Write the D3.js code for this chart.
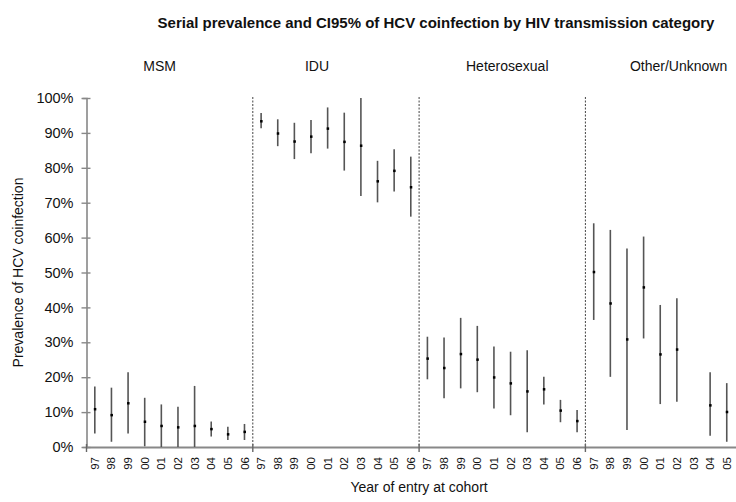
<!DOCTYPE html>
<html lang='en'>
    <head>
        <meta charset="utf-8">
        <script src="https://d3js.org/d3.v7.min.js"></script>
        <style>
            *{
                margin:0;
                padding:0
            }
            body{
                width:736px;
                height:502px;
                background:#fff;
                overflow:hidden;
            }
            text{
                font-family:"Liberation Sans",Arial,sans-serif;
                fill:#111;
            }
        </style>
    </head>
    <body>
        <script>
            // categories
            const groups=['MSM','IDU','Heterosexual','Other/Unknown'];
            const years=['97','98','99','00','01','02','03','04','05','06'];
            const yTicks=[0,0.1,0.2,0.3,0.4,0.5,0.6,0.7,0.8,0.9,1];

            // prevalence and CI95% bounds, one array per group (null = not shown)
            const prevMSM=[0.109,0.092,0.126,0.073,0.061,0.057,0.061,0.052,0.037,0.044];
            const lowMSM=[0.039,0.015,0.039,0.002,0.0,0.0,0.0,0.030,0.020,0.020];
            const highMSM=[0.173,0.170,0.214,0.141,0.122,0.115,0.175,0.073,0.058,0.066];

            const prevIDU=[0.934,0.899,0.876,0.890,0.913,0.875,0.864,0.762,0.792,0.745];
            const lowIDU=[0.913,0.862,0.825,0.842,0.855,0.792,0.719,0.701,0.732,0.660];
            const highIDU=[0.957,0.939,0.929,0.937,0.973,0.958,1.0,0.820,0.853,0.832];

            const prevHet=[0.254,0.227,0.267,0.251,0.200,0.183,0.160,0.166,0.105,0.075];
            const lowHet=[0.194,0.140,0.168,0.157,0.110,0.091,0.042,0.122,0.071,0.042];
            const highHet=[0.316,0.314,0.370,0.347,0.288,0.273,0.277,0.201,0.135,0.106];

            const prevOth=[0.502,0.412,0.309,0.458,0.266,0.280,null,0.120,0.101,null];
            const lowOth=[0.364,0.201,0.049,0.311,0.123,0.130,null,0.032,0.015,null];
            const highOth=[0.641,0.622,0.569,0.603,0.407,0.426,null,0.214,0.183,null];

            const prevAll=[prevMSM,prevIDU,prevHet,prevOth];
            const lowAll=[lowMSM,lowIDU,lowHet,lowOth];
            const highAll=[highMSM,highIDU,highHet,highOth];

            const width=736;
            const height=502;
            const margin={top:98,left:86.5,bottom:447,right:751.7};
            const labelShift=[-10,-19,5,10];

            const keys=[];
            const data=[];
            groups.forEach((g,gi)=>{
                years.forEach((y,yi)=>{
                    keys.push(g+'|'+y);
                    if(prevAll[gi][yi]!==null){
                        data.push({key:g+'|'+y,prev:prevAll[gi][yi],low:lowAll[gi][yi],high:highAll[gi][yi]});
                    }
                });
            });

            const xScale=d3.scaleBand()
                           .domain(keys)
                           .range([margin.left,margin.right]);
            const groupScale=d3.scaleBand()
                               .domain(groups)
                               .range([margin.left,margin.right]);
            const yScale=d3.scaleLinear()
                           .domain([0,1])
                           .range([margin.bottom,margin.top]);

            const svg=d3.select('body').append('svg')
                        .attr('width',width)
                        .attr('height',height);

            // title and group labels
            svg.append('text')
               .attr('x',436)
               .attr('y',28)
               .attr('text-anchor','middle')
               .attr('font-size',15)
               .attr('font-weight','bold')
               .text('Serial prevalence and CI95% of HCV coinfection by HIV transmission category');

            svg.selectAll('.group-label')
               .data(groups)
               .enter()
               .append('text')
               .attr('class','group-label')
               .attr('x',(d,i)=>groupScale(d)+groupScale.bandwidth()/2+labelShift[i])
               .attr('y',71)
               .attr('text-anchor','middle')
               .attr('font-size',14)
               .text(d=>d);

            // dotted dividers between groups
            svg.selectAll('.divider')
               .data(groups.slice(1))
               .enter()
               .append('line')
               .attr('class','divider')
               .attr('x1',d=>groupScale(d))
               .attr('x2',d=>groupScale(d))
               .attr('y1',yScale(1)-1)
               .attr('y2',yScale(0))
               .attr('stroke','#444')
               .attr('stroke-width',1)
               .attr('stroke-dasharray','2,1.5');

            // y axis
            const yAxis=svg.append('g')
                           .attr('transform',`translate(${margin.left},0)`)
                           .call(d3.axisLeft(yScale).tickValues(yTicks).tickFormat(d3.format('.0%')).tickSize(4).tickPadding(9));
            yAxis.select('.domain').attr('stroke','#888').attr('stroke-width',1.6);
            yAxis.selectAll('.tick line').attr('stroke','#888').attr('stroke-width',1.4).attr('x2',-5).attr('x1',4);
            yAxis.selectAll('.tick text')
                 .attr('font-size',14.5)
                 .attr('font-family','"Liberation Sans",Arial,sans-serif')
                 .attr('fill','#111');

            // x axis: year labels per category, ticks at group boundaries
            const xAxis=svg.append('g')
                           .attr('transform',`translate(0,${margin.bottom})`)
                           .call(d3.axisBottom(xScale).tickFormat(d=>d.split('|')[1]).tickSize(0).tickPadding(0));
            xAxis.select('.domain').attr('stroke','#888').attr('stroke-width',2);
            xAxis.selectAll('.tick')
                 .filter(d=>xScale(d)+xScale.bandwidth()/2+6>width)
                 .remove();
            xAxis.selectAll('.tick text')
                 .attr('font-size',11.5)
                 .attr('font-family','"Liberation Sans",Arial,sans-serif')
                 .attr('fill','#111')
                 .attr('text-anchor','end')
                 .attr('transform','rotate(-90)')
                 .attr('x',-10)
                 .attr('y',0)
                 .attr('dy','0.35em');

            svg.selectAll('.group-tick')
               .data(groups)
               .enter()
               .append('line')
               .attr('class','group-tick')
               .attr('x1',d=>groupScale(d))
               .attr('x2',d=>groupScale(d))
               .attr('y1',margin.bottom-3)
               .attr('y2',margin.bottom+5)
               .attr('stroke','#666')
               .attr('stroke-width',1.4);

            // axis titles
            svg.append('text')
               .attr('transform',`translate(23,${(margin.top+margin.bottom)/2}) rotate(-90)`)
               .attr('text-anchor','middle')
               .attr('font-size',14)
               .text('Prevalence of HCV coinfection');

            svg.append('text')
               .attr('x',(margin.left+margin.right)/2)
               .attr('y',492)
               .attr('text-anchor','middle')
               .attr('font-size',14)
               .text('Year of entry at cohort');

            // CI95% bars and point estimates
            svg.selectAll('.ci')
               .data(data)
               .enter()
               .append('line')
               .attr('class','ci')
               .attr('x1',d=>xScale(d.key)+xScale.bandwidth()/2)
               .attr('x2',d=>xScale(d.key)+xScale.bandwidth()/2)
               .attr('y1',d=>yScale(d.low))
               .attr('y2',d=>yScale(d.high))
               .attr('stroke','#555')
               .attr('stroke-width',1.6);

            svg.selectAll('.point')
               .data(data)
               .enter()
               .append('rect')
               .attr('class','point')
               .attr('x',d=>xScale(d.key)+xScale.bandwidth()/2-1)
               .attr('y',d=>yScale(d.prev)-1)
               .attr('width',2.5)
               .attr('height',2.5)
               .attr('fill','#000');
        </script>
    </body>
</html>
